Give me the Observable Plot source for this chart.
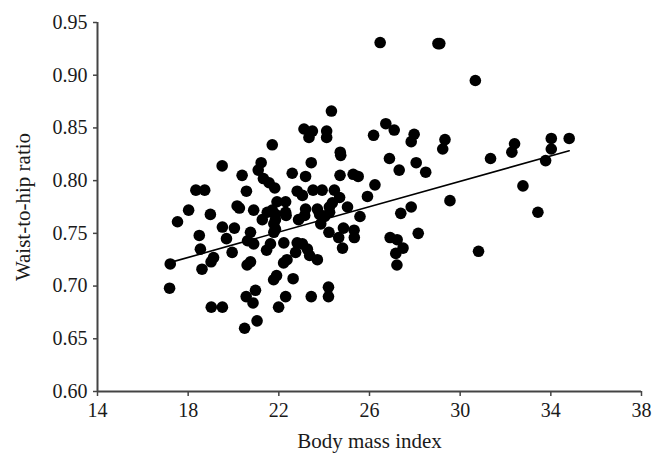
<!DOCTYPE html>
<html>
<head>
<meta charset="utf-8">
<script src="https://cdn.jsdelivr.net/npm/d3@7"></script>
<script src="https://cdn.jsdelivr.net/npm/@observablehq/plot@0.6"></script>
<style>
  html, body { margin: 0; padding: 0; background: #fff; }
  #chart svg { display: block; }
</style>
</head>
<body>
<div id="chart"></div>
<script>
const bmi = [
  17.18, 17.21, 17.53, 18.02, 18.34, 18.73, 18.49, 18.54, 18.61, 18.98,
  19.02, 19.51, 19.12, 19.01, 19.50, 19.51, 20.04, 19.69, 19.94, 20.16,
  20.26, 20.38, 20.57, 20.75, 20.62, 20.89, 20.75, 20.60, 20.89, 20.97,
  20.56, 20.86, 21.04, 20.49, 21.09, 21.22, 21.32, 21.57, 21.82, 21.71,
  21.27, 21.49, 21.71, 21.85, 21.85, 21.78, 21.85, 21.78, 21.63, 21.46,
  21.90, 21.77, 21.99, 21.92, 22.30, 22.22, 22.36, 22.21, 22.30, 22.30,
  22.32, 22.63, 22.59, 22.81, 23.04, 22.87, 23.14, 23.18, 22.81, 23.04,
  22.74, 23.26, 23.36, 23.70, 23.43, 24.19, 24.19, 23.11, 23.48, 23.33,
  24.11, 24.11, 24.32, 24.71, 24.73, 23.43, 23.18, 24.70, 25.28, 25.50,
  23.51, 23.91, 24.45, 24.68, 24.36, 24.23, 23.70, 23.80, 24.24, 24.02,
  23.85, 25.03, 25.58, 24.21, 24.85, 24.64, 24.81, 25.32, 25.33, 25.91,
  26.24, 26.18, 26.47, 26.72, 27.09, 26.88, 27.31, 27.97, 27.84, 28.06,
  28.48, 27.38, 27.84, 28.15, 26.91, 27.22, 27.48, 27.16, 27.21, 29.33,
  29.23, 29.02, 29.10, 29.55, 30.67, 30.81, 31.34, 32.40, 32.28, 32.77,
  33.43, 33.77, 34.02, 34.02, 34.81
];
const whr = [
  0.698, 0.721, 0.761, 0.772, 0.791, 0.791, 0.748, 0.735, 0.716, 0.768,
  0.680, 0.680, 0.727, 0.723, 0.814, 0.756, 0.755, 0.745, 0.732, 0.776,
  0.774, 0.805, 0.790, 0.751, 0.743, 0.740, 0.723, 0.720, 0.772, 0.696,
  0.690, 0.684, 0.667, 0.660, 0.810, 0.817, 0.802, 0.798, 0.793, 0.834,
  0.763, 0.770, 0.772, 0.768, 0.763, 0.759, 0.754, 0.751, 0.740, 0.734,
  0.710, 0.706, 0.680, 0.780, 0.780, 0.741, 0.725, 0.722, 0.690, 0.770,
  0.767, 0.707, 0.807, 0.790, 0.786, 0.763, 0.767, 0.773, 0.741, 0.740,
  0.732, 0.735, 0.729, 0.725, 0.690, 0.699, 0.690, 0.849, 0.847, 0.841,
  0.847, 0.841, 0.866, 0.827, 0.824, 0.817, 0.804, 0.805, 0.806, 0.804,
  0.791, 0.791, 0.791, 0.784, 0.779, 0.775, 0.773, 0.768, 0.770, 0.766,
  0.759, 0.775, 0.766, 0.751, 0.755, 0.746, 0.736, 0.753, 0.746, 0.785,
  0.796, 0.843, 0.931, 0.854, 0.848, 0.821, 0.810, 0.844, 0.837, 0.817,
  0.808, 0.769, 0.775, 0.750, 0.746, 0.744, 0.736, 0.731, 0.720, 0.839,
  0.830, 0.930, 0.930, 0.781, 0.895, 0.733, 0.821, 0.835, 0.827, 0.795,
  0.770, 0.819, 0.840, 0.830, 0.840
];
// Linear trend line as shown in the figure
const trendIntercept = 0.6188;
const trendSlope = 0.00602;
const xTicks = [14, 18, 22, 26, 30, 34, 38];
const yTicks = [0.60, 0.65, 0.70, 0.75, 0.80, 0.85, 0.90, 0.95];
const xLabel = "Body mass index";
const yLabel = "Waist-to-hip ratio";

const data = bmi.map((b, i) => ({bmi: b, whr: whr[i]}));
const trendData = d3.extent(bmi).map(b => ({bmi: b, whr: trendIntercept + trendSlope * b}));

const axisColor = "#444";
const textColor = "#1a1a1a";

const chart = Plot.plot({
  width: 665,
  height: 471,
  marginLeft: 97,
  marginRight: 24,
  marginTop: 22,
  marginBottom: 80,
  style: {
    fontFamily: "'Liberation Serif', 'DejaVu Serif', serif",
    fontSize: "20px",
    color: textColor,
    background: "#fff"
  },
  x: {domain: [14, 38]},
  y: {domain: [0.60, 0.95]},
  marks: [
    Plot.axisX({
      ticks: xTicks,
      tickFormat: d => String(d),
      tickSize: 5,
      tickPadding: 6,
      stroke: axisColor,
      strokeWidth: 1.5,
      fill: textColor,
      fontSize: 20,
      label: null
    }),
    Plot.axisY({
      ticks: yTicks,
      tickFormat: d3.format(".2f"),
      tickSize: 4,
      tickPadding: 6,
      stroke: axisColor,
      strokeWidth: 1.5,
      fill: textColor,
      fontSize: 20,
      label: null
    }),
    Plot.ruleY([0.60], {stroke: axisColor, strokeWidth: 2}),
    Plot.ruleX([14], {stroke: axisColor, strokeWidth: 2}),
    Plot.axisX({
      ticks: [],
      label: xLabel,
      labelAnchor: "center",
      labelArrow: "none",
      labelOffset: 56,
      fontSize: 21,
      fill: textColor
    }),
    Plot.axisY({
      ticks: [],
      label: yLabel,
      labelAnchor: "center",
      labelArrow: "none",
      labelOffset: 82,
      fontSize: 21,
      fill: textColor
    }),
    Plot.dot(data, {x: "bmi", y: "whr", r: 5.8, fill: "#000", stroke: "none"}),
    Plot.line(trendData, {x: "bmi", y: "whr", stroke: "#000", strokeWidth: 1.6})
  ]
});

document.getElementById("chart").appendChild(chart);
</script>
</body>
</html>
